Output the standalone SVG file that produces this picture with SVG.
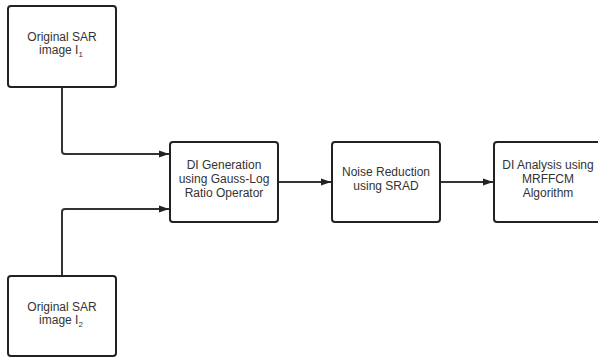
<svg xmlns="http://www.w3.org/2000/svg" width="598" height="358" viewBox="0 0 598 358">
  <style>
    .box { fill: #ffffff; stroke: #222222; stroke-width: 2; }
    .label { font-family: "Liberation Sans", Arial, sans-serif; font-size: 12px; fill: #333333; text-anchor: middle; }
    .sub { font-size: 8px; }
    .link { fill: none; stroke: #333333; stroke-width: 2; marker-end: url(#arrow); }
  </style>
  <defs>
    <marker id="arrow" viewBox="0 0 10 10" refX="10" refY="5" markerWidth="5" markerHeight="5" markerUnits="strokeWidth" orient="auto">
      <path d="M0,1.5 L10,5 L0,8.5 z" fill="#222222"/>
    </marker>
  </defs>
  <rect width="598" height="358" fill="#ffffff"/>

  <g id="connectors">
    <path class="link" d="M62,87 V151 Q62,154 65,154 H169"/>
    <path class="link" d="M62,276 V212 Q62,209 65,209 H169"/>
    <path class="link" d="M278,182 H331"/>
    <path class="link" d="M440,182 H493"/>
  </g>

  <g id="sar1">
    <rect class="box" x="8" y="6" width="108" height="81" rx="3"/>
    <text class="label" x="62" y="41">Original SAR</text>
    <text class="label" x="61" y="54">image I<tspan class="sub" dy="3">1</tspan></text>
  </g>

  <g id="sar2">
    <rect class="box" x="8" y="276" width="108" height="80" rx="3"/>
    <text class="label" x="62" y="311">Original SAR</text>
    <text class="label" x="61" y="324">image I<tspan class="sub" dy="3">2</tspan></text>
  </g>

  <g id="di-generation">
    <rect class="box" x="170" y="142" width="108" height="80" rx="3"/>
    <text class="label" x="224" y="169">DI Generation</text>
    <text class="label" x="224" y="183">using Gauss-Log</text>
    <text class="label" x="224" y="197">Ratio Operator</text>
  </g>

  <g id="noise-reduction">
    <rect class="box" x="332" y="142" width="108" height="80" rx="3"/>
    <text class="label" x="386" y="176">Noise Reduction</text>
    <text class="label" x="386" y="190">using SRAD</text>
  </g>

  <g id="di-analysis">
    <rect class="box" x="494" y="142" width="108" height="80" rx="3"/>
    <text class="label" x="548" y="169">DI Analysis using</text>
    <text class="label" x="548" y="183">MRFFCM</text>
    <text class="label" x="548" y="197">Algorithm</text>
  </g>
</svg>
